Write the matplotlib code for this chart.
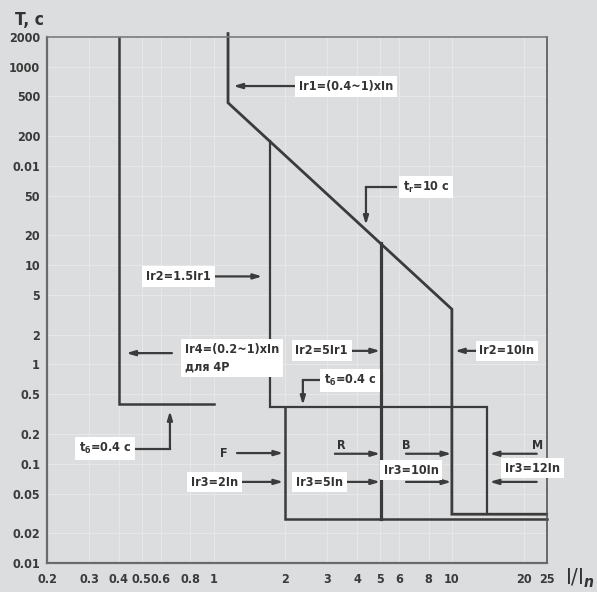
import matplotlib
matplotlib.use('Agg')
import matplotlib.pyplot as plt

# характеристика срабатывания расцепителя, ось X - кратность тока I/In, ось Y - время, с
x_ticks = [0.2, 0.3, 0.4, 0.5, 0.6, 0.8, 1, 2, 3, 4, 5, 6, 8, 10, 20, 25]
x_labels = ['0.2', '0.3', '0.4', '0.5', '0.6', '0.8', '1', '2', '3', '4', '5', '6', '8', '10', '20', '25']
y_ticks = [2000, 1000, 500, 200, 100, 50, 20, 10, 5, 2, 1, 0.5, 0.2, 0.1, 0.05, 0.02, 0.01]
y_labels = ['2000', '1000', '500', '200', '0.01', '50', '20', '10', '5', '2', '1',
            '0.5', '0.2', '0.1', '0.05', '0.02', '0.01']

# защита нейтрали 4P
n4p_x = [0.4, 0.4, 1.0]
n4p_t = [2000, 0.4, 0.4]

# основная кривая: Ir1 -> I2t -> Ir2=10In -> мгновенная
main_x = [1.15, 1.15, 10, 10, 25]
main_t = [2150, 432, 3.6, 0.031, 0.031]

# Ir2=1.5Ir1 и Ir3=12In
ir2a_x = [1.73, 1.73, 14, 14]
ir2a_t = [179, 0.375, 0.375, 0.031]

# Ir3=2In
ir3a_x = [2, 2, 25.1]
ir3a_t = [0.375, 0.028, 0.028]

# Ir2=5Ir1
ir2b_x = [5.04, 5.04]
ir2b_t = [16.6, 0.028]

bg = '#dcdddf'
ink = '#3b3b3b'

plt.rcParams['font.family'] = ['DejaVu Sans']
plt.rcParams['font.stretch'] = 'condensed'
plt.rcParams['font.weight'] = 'bold'
plt.rcParams['mathtext.fontset'] = 'dejavusans'

fig = plt.figure(figsize=(5.97, 5.92), dpi=100, facecolor=bg)
ax = fig.add_axes([47 / 597, 1 - 563 / 592, 499.7 / 597, 526.3 / 592])
ax.set_facecolor(bg)
ax.set_xscale('log')
ax.set_yscale('log')
ax.set_xlim(0.2, 25)
ax.set_ylim(0.01, 2000)

ax.grid(True, which='both', color='#e7e8ea', linewidth=0.7)
ax.set_axisbelow(True)

ax.set_xticks(x_ticks)
ax.set_xticklabels(x_labels)
ax.set_yticks(y_ticks)
ax.set_yticklabels(y_labels)
ax.minorticks_off()
ax.grid(True, which='major', color='#e7e8ea', linewidth=0.7)
ax.tick_params(length=0, labelsize=9, labelcolor='#3a3a3a')
ax.tick_params(axis='x', pad=7)
ax.tick_params(axis='y', pad=5)

for s in ['left', 'bottom']:
    ax.spines[s].set_color('#6a6a6a')
    ax.spines[s].set_linewidth(1.6)
ax.spines['top'].set_color('#7a7a7a')
ax.spines['top'].set_linewidth(1.2)
ax.spines['right'].set_color('#555555')
ax.spines['right'].set_linewidth(1.2)

ax.plot(n4p_x, n4p_t, color=ink, lw=1.8, solid_joinstyle='miter')
ax.plot(main_x, main_t, color=ink, lw=2.0, solid_joinstyle='miter', clip_on=False)
ax.plot(ir2a_x, ir2a_t, color=ink, lw=1.6, solid_joinstyle='miter')
ax.plot(ir3a_x, ir3a_t, color=ink, lw=1.8, solid_joinstyle='miter', clip_on=False)
ax.plot(ir2b_x, ir2b_t, color=ink, lw=2.3)

box = dict(boxstyle='square,pad=0.3', fc='white', ec='none')
arr = dict(arrowstyle='-|>,head_length=0.5,head_width=0.15', color=ink, lw=1.6,
           shrinkA=0, shrinkB=0)


def label(x, y, s, boxed=True, ha='center'):
    ax.text(x, y, s, ha=ha, va='center', fontsize=9, color='#333333',
            bbox=box if boxed else None, zorder=5, linespacing=1.5,
            multialignment='left')


def arrow(x0, x1, y):
    ax.annotate('', xy=(x1, y), xytext=(x0, y), arrowprops=arr, zorder=4)


# подписи и стрелки
label(3.6, 630, 'Ir1=(0.4~1)xIn')
arrow(2.22, 1.21, 637)

label(0.713, 7.7, 'Ir2=1.5Ir1')
arrow(1.01, 1.6, 7.7)

label(0.76, 1.16, 'Ir4=(0.2~1)xIn\nдля 4P', ha='left')
arrow(0.669, 0.43, 1.3)

label(1.106, 0.128, 'F', boxed=False)
arrow(1.254, 1.96, 0.128)

label(1.01, 0.0654, 'Ir3=2In')
arrow(1.254, 1.96, 0.0656)

label(2.84, 1.38, 'Ir2=5Ir1')
arrow(3.7, 5.0, 1.37)

label(17.0, 1.37, 'Ir2=10In')
arrow(13.25, 10.3, 1.37)

label(3.43, 0.154, 'R', boxed=False)
arrow(3.23, 5.0, 0.126)
label(6.46, 0.154, 'B', boxed=False)
arrow(6.42, 9.95, 0.126)
label(22.8, 0.154, 'M', boxed=False)
arrow(22.7, 14.4, 0.126)

label(2.78, 0.0654, 'Ir3=5In')
arrow(3.49, 5.0, 0.0656)
label(6.74, 0.0864, 'Ir3=10In')
arrow(6.42, 9.95, 0.0656)
label(21.8, 0.0905, 'Ir3=12In')
arrow(22.7, 14.4, 0.0656)

# выноски с изломом: tr и tб
label(7.78, 61.2, r't$_\mathregular{r}$=10 c')
ax.plot([5.83, 4.36], [61.2, 61.2], color=ink, lw=1.6)
ax.annotate('', xy=(4.36, 25.4), xytext=(4.36, 61.2), arrowprops=arr)

label(0.35, 0.142, r't$_\mathregular{б}$=0.4 c')
ax.plot([0.455, 0.656], [0.142, 0.142], color=ink, lw=1.6)
ax.annotate('', xy=(0.656, 0.34), xytext=(0.656, 0.142), arrowprops=arr)

label(3.74, 0.689, r't$_\mathregular{б}$=0.4 c')
ax.plot([2.85, 2.37], [0.692, 0.692], color=ink, lw=1.6)
ax.annotate('', xy=(2.37, 0.39), xytext=(2.37, 0.692), arrowprops=arr)

# подписи осей
fig.text(15 / 597, 1 - 20 / 592, 'T, c', fontsize=12.5, color='#333333', va='center', ha='left')
fig.text(565 / 597, 1 - 578 / 592, r'I/I$_\mathit{n}$', fontsize=16, color='#333333',
         va='center', ha='left', fontweight='normal')

fig.savefig('out.png', dpi=100, facecolor=bg)
